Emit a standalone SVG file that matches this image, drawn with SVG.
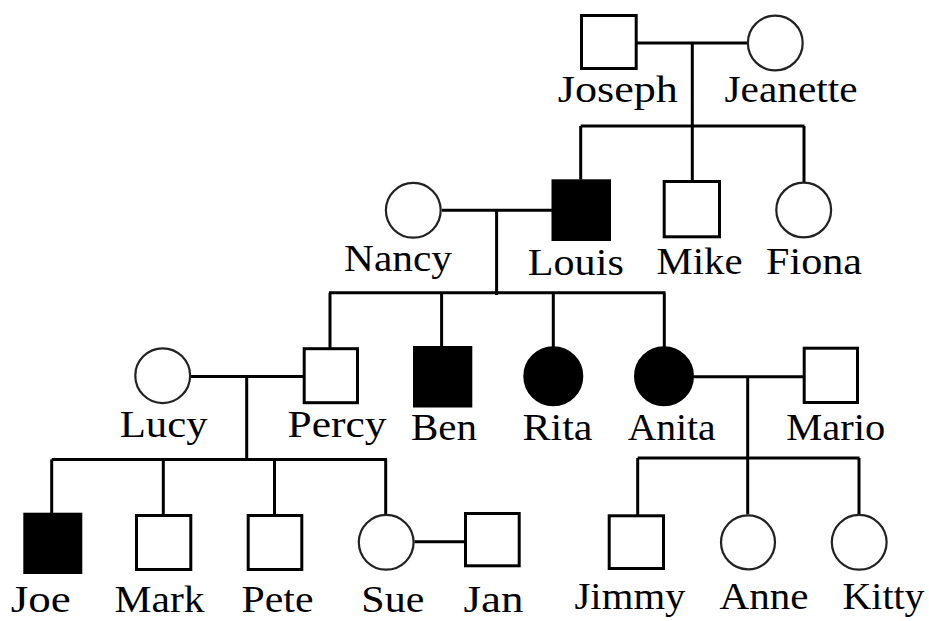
<svg xmlns="http://www.w3.org/2000/svg" width="929" height="621" viewBox="0 0 929 621">
<style>
.sq{fill:#fff;stroke:#000;stroke-width:3}
.sqf{fill:#000;stroke:#000;stroke-width:3}
.ci{fill:#fff;stroke:#222;stroke-width:2.2}
.cif{fill:#000;stroke:#000;stroke-width:2}
.ln{fill:none;stroke:#000;stroke-width:3}
text{font-family:"Liberation Serif","Times New Roman",serif;font-size:37px;fill:#000;text-anchor:middle}
</style>
<rect width="929" height="621" fill="#fff"/>
<g id="connectors">
<path class="ln" d="M637 43H747M692.3 43V180.5M580.7 126H804.5M580.7 126V179.5M804 126V182.5"/>
<path class="ln" d="M442 210.3H552M496.6 210.3V295M329 292.7H665.5M330 292.7V348.5M441.6 292.7V346.5M553.3 292.7V347M664.3 292.7V347"/>
<path class="ln" d="M191 376.6H303.5M246.7 376.6V461M51.7 459.5H387M51.7 459.5V513.5M163.3 459.5V514.5M274.5 459.5V514.5M385.7 459.5V514.5M414.5 541.8H464.5"/>
<path class="ln" d="M693.5 376.7H803.5M747.7 376.7V514.5M637.7 458H859.5M637.7 458V515M859 458V514.5"/>
</g>
<g id="joseph"><rect class="sq" x="581.5" y="15.5" width="54.7" height="53"/><text x="617.8" y="102" textLength="120" lengthAdjust="spacingAndGlyphs">Joseph</text></g>
<g id="jeanette"><circle class="ci" cx="775.3" cy="43" r="27.4"/><text x="791" y="102" textLength="133" lengthAdjust="spacingAndGlyphs">Jeanette</text></g>
<g id="nancy"><circle class="ci" cx="413.3" cy="210.3" r="27.4"/><text x="398" y="271" textLength="108" lengthAdjust="spacingAndGlyphs">Nancy</text></g>
<g id="louis"><rect class="sqf" x="553" y="180.8" width="56.5" height="58.7"/><text x="575.8" y="275" textLength="96" lengthAdjust="spacingAndGlyphs">Louis</text></g>
<g id="mike"><rect class="sq" x="664.2" y="181.5" width="55.3" height="55.3"/><text x="699.5" y="274" textLength="86" lengthAdjust="spacingAndGlyphs">Mike</text></g>
<g id="fiona"><circle class="ci" cx="803.7" cy="210" r="27.4"/><text x="814" y="274" textLength="96" lengthAdjust="spacingAndGlyphs">Fiona</text></g>
<g id="lucy"><circle class="ci" cx="162.7" cy="375.7" r="27.4"/><text x="163.7" y="437" textLength="88" lengthAdjust="spacingAndGlyphs">Lucy</text></g>
<g id="percy"><rect class="sq" x="304.2" y="348.7" width="53.3" height="54"/><text x="337" y="436.5" textLength="99" lengthAdjust="spacingAndGlyphs">Percy</text></g>
<g id="ben"><rect class="sqf" x="414.5" y="347.5" width="56.3" height="58.5"/><text x="444" y="440" textLength="66" lengthAdjust="spacingAndGlyphs">Ben</text></g>
<g id="rita"><circle class="cif" cx="553.3" cy="376.3" r="29"/><text x="557.5" y="440" textLength="70" lengthAdjust="spacingAndGlyphs">Rita</text></g>
<g id="anita"><circle class="cif" cx="664" cy="376.3" r="29"/><text x="671.7" y="440" textLength="88" lengthAdjust="spacingAndGlyphs">Anita</text></g>
<g id="mario"><rect class="sq" x="804.2" y="348.2" width="53.3" height="54.3"/><text x="835.8" y="440" textLength="99" lengthAdjust="spacingAndGlyphs">Mario</text></g>
<g id="joe"><rect class="sqf" x="24.8" y="514.2" width="56" height="58.3"/><text x="40.8" y="611.5" textLength="60" lengthAdjust="spacingAndGlyphs">Joe</text></g>
<g id="mark"><rect class="sq" x="136.5" y="515.5" width="54.3" height="54"/><text x="159.5" y="611.5" textLength="90" lengthAdjust="spacingAndGlyphs">Mark</text></g>
<g id="pete"><rect class="sq" x="248.2" y="515.5" width="53.6" height="54"/><text x="277.5" y="611.5" textLength="72" lengthAdjust="spacingAndGlyphs">Pete</text></g>
<g id="sue"><circle class="ci" cx="386.2" cy="542.3" r="27.4"/><text x="392.8" y="611.5" textLength="63" lengthAdjust="spacingAndGlyphs">Sue</text></g>
<g id="jan"><rect class="sq" x="465.5" y="513.5" width="53.7" height="52.3"/><text x="493.5" y="611.5" textLength="60" lengthAdjust="spacingAndGlyphs">Jan</text></g>
<g id="jimmy"><rect class="sq" x="609.2" y="515.8" width="54.3" height="52.7"/><text x="630" y="609" textLength="111" lengthAdjust="spacingAndGlyphs">Jimmy</text></g>
<g id="anne"><circle class="ci" cx="748" cy="542.3" r="27"/><text x="764" y="609" textLength="89" lengthAdjust="spacingAndGlyphs">Anne</text></g>
<g id="kitty"><circle class="ci" cx="859.2" cy="542.3" r="27.4"/><text x="883.5" y="609" textLength="82" lengthAdjust="spacingAndGlyphs">Kitty</text></g>
</svg>
